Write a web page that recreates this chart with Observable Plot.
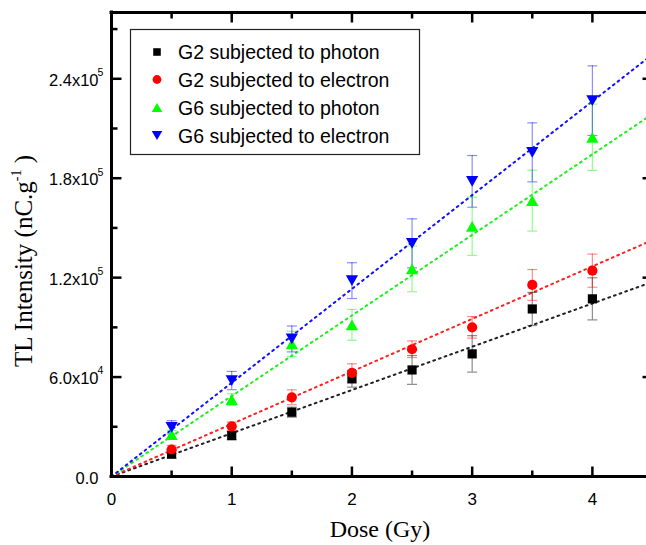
<!DOCTYPE html>
<html><head><meta charset="utf-8">
<script src="https://cdn.jsdelivr.net/npm/d3@7"></script>
<script src="https://cdn.jsdelivr.net/npm/@observablehq/plot@0.6"></script>
<style>
html,body{margin:0;padding:0;background:#fff;overflow:hidden;}
#chart{width:646px;height:545px;overflow:hidden;}
</style></head><body><div id="chart"></div>
<script>
// ---- data ----
const doses = [0.5, 1, 1.5, 2, 2.5, 3, 3.5, 4];
const seriesNames = ["G2 subjected to photon", "G2 subjected to electron", "G6 subjected to photon", "G6 subjected to electron"];
const g2Photon      = [1.35e4, 2.47e4, 3.88e4, 5.89e4, 6.43e4, 7.40e4, 1.011e5, 1.072e5];
const g2PhotonErr   = [2.5e3, 2.5e3, 3.0e3, 5.0e3, 8.7e3, 1.1e4, 1.0e4, 1.27e4];
const g2Electron    = [1.63e4, 3.03e4, 4.78e4, 6.25e4, 7.68e4, 9.0e4, 1.156e5, 1.242e5];
const g2ElectronErr = [2.5e3, 2.5e3, 4.5e3, 5.5e3, 5.0e3, 6.5e3, 9.3e3, 1.0e4];
const g6Photon      = [2.53e4, 4.64e4, 8.0e4, 9.15e4, 1.253e5, 1.51e5, 1.665e5, 2.047e5];
const g6PhotonErr   = [2.5e3, 3.5e3, 7.6e3, 9.3e3, 1.38e4, 1.76e4, 1.84e4, 2.0e4];
const g6Electron    = [2.97e4, 5.79e4, 8.3e4, 1.182e5, 1.407e5, 1.781e5, 1.956e5, 2.268e5];
const g6ElectronErr = [4.0e3, 5.5e3, 7.8e3, 1.08e4, 1.48e4, 1.56e4, 1.78e4, 2.1e4];
const fitSlopes = [2.61e4, 3.17e4, 4.86e4, 5.66e4]; // linear fits through origin
const xDomain = [0, 4.5];
const yDomain = [0, 2.8e5];
const xMajorTicks = [0, 1, 2, 3, 4];
const xMinorTicks = [0.5, 1.5, 2.5, 3.5];
const xTickLabels = ["0", "1", "2", "3", "4"];
const yMajorTicks = [0, 6e4, 1.2e5, 1.8e5, 2.4e5];
const yMinorTicks = [3e4, 9e4, 1.5e5, 2.1e5, 2.7e5];
const yTickMantissa = ["0.0", "6.0x10", "1.2x10", "1.8x10", "2.4x10"];
const yTickExponent = ["", "4", "5", "5", "5"];

// ---- styles ----
const markerColors = ["#000000", "#ff0000", "#00ff00", "#0000ff"];
const lineColors = ["#222222", "#ff2020", "#20ee20", "#1010ff"];
const rad = r => Math.sqrt(r / Math.PI);
const symbols = [
  {draw(c, s) { const h = rad(s) * 0.9; c.rect(-h, -h, 2 * h, 2 * h); }},
  {draw(c, s) { const r = rad(s); c.moveTo(r, 0); c.arc(0, 0, r, 0, 2 * Math.PI); }},
  {draw(c, s) { const r = rad(s), w = r * 1.2, h = r * 1.05; c.moveTo(0, -h); c.lineTo(w, h); c.lineTo(-w, h); c.closePath(); }},
  {draw(c, s) { const r = rad(s), w = r * 1.2, h = r * 1.05; c.moveTo(0, h); c.lineTo(w, -h); c.lineTo(-w, -h); c.closePath(); }}
];
const seg = (dx, dy) => ({draw(c) { c.moveTo(0, 0); c.lineTo(dx, dy); }});
const capSym = {draw(c) { c.moveTo(-5, 0); c.lineTo(5, 0); }};

const values = [g2Photon, g2Electron, g6Photon, g6Electron];
const errs = [g2PhotonErr, g2ElectronErr, g6PhotonErr, g6ElectronErr];
const rows = values.map((vs, s) => doses.map((d, i) => ({dose: d, value: vs[i], err: errs[s][i]})));

const marks = [];
// fit lines
values.forEach((vs, s) => {
  const fit = xDomain.map(x => ({x, y: fitSlopes[s] * x}));
  marks.push(Plot.line(fit, {x: "x", y: "y", stroke: lineColors[s], strokeWidth: 2, strokeDasharray: "1.8 4.2"}));
});
// error bars
rows.forEach((r, s) => {
  marks.push(Plot.ruleX(r, {x: "dose", y1: d => d.value - d.err, y2: d => d.value + d.err, stroke: markerColors[s], strokeOpacity: 0.45, strokeWidth: 1.2}));
  marks.push(Plot.dot(r, {x: "dose", y: d => d.value + d.err, symbol: capSym, r: 3, fill: "none", stroke: markerColors[s], strokeOpacity: 0.45, strokeWidth: 1.2}));
  marks.push(Plot.dot(r, {x: "dose", y: d => d.value - d.err, symbol: capSym, r: 3, fill: "none", stroke: markerColors[s], strokeOpacity: 0.45, strokeWidth: 1.2}));
});
// markers
rows.forEach((r, s) => {
  marks.push(Plot.dot(r, {x: "dose", y: "value", symbol: symbols[s], r: 5.1, fill: markerColors[s], stroke: "none"}));
});
// frame
marks.push(Plot.ruleX(xDomain, {x: d => d, y1: () => yDomain[0], y2: () => yDomain[1], stroke: "#000", strokeWidth: 3, strokeLinecap: "square"}));
marks.push(Plot.ruleY(yDomain, {y: d => d, x1: () => xDomain[0], x2: () => xDomain[1], stroke: "#000", strokeWidth: 3, strokeLinecap: "square"}));
// ticks (inward)
const tickStyle = {fill: "none", stroke: "#000", strokeWidth: 2.5, r: 3};
marks.push(Plot.dot(xMajorTicks, {x: d => d, y: () => yDomain[0], symbol: seg(0, -10), ...tickStyle}));
marks.push(Plot.dot(xMinorTicks, {x: d => d, y: () => yDomain[0], symbol: seg(0, -6), ...tickStyle}));
marks.push(Plot.dot(xMajorTicks, {x: d => d, y: () => yDomain[1], symbol: seg(0, 10), ...tickStyle}));
marks.push(Plot.dot(xMinorTicks, {x: d => d, y: () => yDomain[1], symbol: seg(0, 6), ...tickStyle}));
marks.push(Plot.dot(yMajorTicks, {y: d => d, x: () => xDomain[0], symbol: seg(10, 0), ...tickStyle}));
marks.push(Plot.dot(yMinorTicks, {y: d => d, x: () => xDomain[0], symbol: seg(6, 0), ...tickStyle}));
marks.push(Plot.dot(yMajorTicks, {y: d => d, x: () => xDomain[1], symbol: seg(-10, 0), ...tickStyle}));
marks.push(Plot.dot(yMinorTicks, {y: d => d, x: () => xDomain[1], symbol: seg(-6, 0), ...tickStyle}));
// tick labels
marks.push(Plot.text(xMajorTicks, {x: d => d, y: () => yDomain[0], text: (d, i) => xTickLabels[i], dy: 23, fontSize: 17, fontFamily: "Liberation Sans, Arial, sans-serif", fill: "#000"}));
const yLab = yMajorTicks.map((v, i) => ({v, m: yTickMantissa[i], e: yTickExponent[i]}));
marks.push(Plot.text(yLab, {x: () => xDomain[0], y: "v", text: "m", textAnchor: "end", dx: -13, dy: 2, fontSize: 16.5, fontFamily: "Liberation Sans, Arial, sans-serif", fill: "#000"}));
marks.push(Plot.text(yLab, {x: () => xDomain[0], y: "v", text: "e", textAnchor: "start", dx: -14, dy: -6, fontSize: 10.5, fontFamily: "Liberation Sans, Arial, sans-serif", fill: "#000"}));

const svg = Plot.plot({
  width: 646, height: 545,
  marginLeft: 111, marginRight: 0, marginTop: 12, marginBottom: 69,
  x: {domain: xDomain, range: [111, 652], axis: null},
  y: {domain: yDomain, range: [476, 12], axis: null},
  style: {background: "#fff", overflow: "hidden"},
  marks
});
document.getElementById("chart").appendChild(svg);

// ---- legend & titles ----
const g = d3.select(svg);
const leg = g.append("g");
leg.append("rect").attr("x", 130.5).attr("y", 29.5).attr("width", 289).attr("height", 125)
  .attr("fill", "#fff").attr("stroke", "#222").attr("stroke-width", 1.2);
const legRowY = [52, 79.5, 107.5, 135.5];
const legR = [4.2, 4.4, 4.4, 4.4];
seriesNames.forEach((name, s) => {
  leg.append("path").attr("transform", `translate(157,${legRowY[s]})`)
    .attr("d", d3.symbol(symbols[s], legR[s] * legR[s] * Math.PI)()).attr("fill", markerColors[s]);
  leg.append("text").attr("x", 178).attr("y", legRowY[s]).attr("dy", "0.36em").attr("text-anchor", "start")
    .attr("font-family", "Liberation Sans, Arial, sans-serif").attr("font-size", 19.5).attr("fill", "#000").text(name);
});
const yt = g.append("text").attr("transform", "translate(32,261) rotate(-90)").attr("text-anchor", "middle")
  .attr("font-family", "Liberation Serif, Times New Roman, serif").attr("font-size", 25).attr("fill", "#000");
yt.append("tspan").text("TL Intensity (nC.g");
yt.append("tspan").attr("dy", -11).attr("font-size", 14).text("-1");
yt.append("tspan").attr("dy", 11).text(" )");
g.append("text").attr("x", 380).attr("y", 537).attr("text-anchor", "middle")
  .attr("font-family", "Liberation Serif, Times New Roman, serif").attr("font-size", 24).attr("fill", "#000").text("Dose (Gy)");
</script></body></html>
